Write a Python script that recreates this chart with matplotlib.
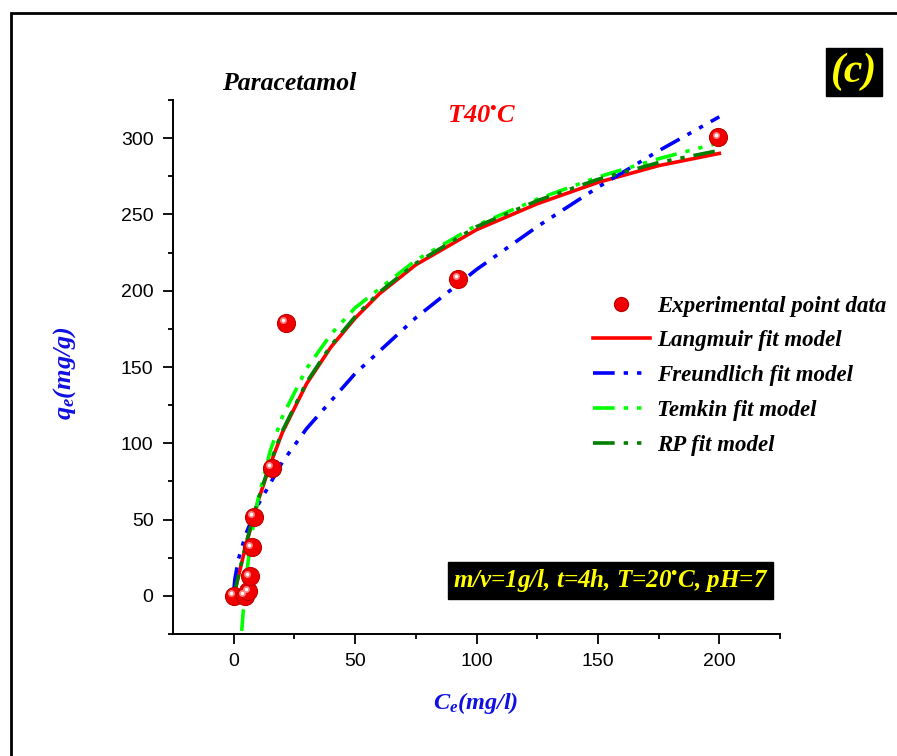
import matplotlib.pyplot as plt
import matplotlib.transforms as mtransforms
from matplotlib.patches import Rectangle

# experimental isotherm points (Ce in mg/l, qe in mg/g)
ce_exp = [0, 4.5, 6, 6.6, 7.4, 8.2, 15.6, 21.4, 92.4, 199.6]
qe_exp = [0, 0, 3, 13, 32, 52, 84, 179, 208, 300.5]

# fitted curves
ce_lang = [0, 5, 10, 15, 20, 30, 40, 50, 60, 75, 100, 125, 150, 175, 200]
qe_lang = [0, 33, 62, 86, 107, 139, 163, 182, 198, 217, 240, 257, 271, 282, 290]

ce_freu = [0.1, 0.5, 2, 5, 10, 20, 30, 50, 75, 100, 125, 150, 175, 200]
qe_freu = [4.6, 11.3, 24.4, 40.6, 59.6, 87.6, 109.6, 145.7, 182.3, 213.9,
           242, 267.8, 291.7, 314]

ce_temk = [3.3, 4, 5, 6, 8, 10, 15, 20, 30, 40, 50, 75, 100, 125, 150, 175, 200]
qe_temk = [-23, -8.2, 9.2, 23.4, 45.8, 63.3, 94.9, 117.3, 149, 171.4, 188.8,
           220, 242.9, 260, 274.5, 286.5, 297]

ce_rp = [0, 5, 10, 15, 20, 30, 40, 50, 60, 75, 100, 125, 150, 175, 200]
qe_rp = [0, 34, 63, 87, 108, 140, 164, 183, 199, 218, 242, 259, 273, 284, 292]

serif = 'Liberation Serif'
sans = 'Liberation Sans'
plt.rcParams['mathtext.fontset'] = 'custom'
plt.rcParams['mathtext.it'] = 'Liberation Serif:italic:bold'
plt.rcParams['mathtext.bf'] = 'Liberation Serif:italic:bold'
plt.rcParams['mathtext.rm'] = 'Liberation Serif:italic:bold'

fig = plt.figure(figsize=(8.97, 7.56), dpi=100)
ax = fig.add_axes([0.1929, 0.1614, 0.6767, 0.7063])

dash = (0, (6, 2.5, 1.2, 2.5, 1.2, 2.5))
ax.plot(ce_lang, qe_lang, color='#ff0000', lw=2.6, label='Langmuir fit model', zorder=3)
ax.plot(ce_freu, qe_freu, color='#0000ff', lw=2.6, linestyle=dash, label='Freundlich fit model', zorder=3)
ax.plot(ce_temk, qe_temk, color='#00ff00', lw=2.6, linestyle=dash, label='Temkin fit model', zorder=3)
ax.plot(ce_rp, qe_rp, color='#007f00', lw=2.6, linestyle=dash, label='RP fit model', zorder=3)

# red "sphere" markers with a light highlight
ax.plot(ce_exp, qe_exp, 'o', color='#f00000', mec='#c00000', mew=0.8, ms=13, zorder=4)
hl = mtransforms.offset_copy(ax.transData, fig=fig, x=-1.8, y=1.8, units='points')
ax.plot(ce_exp, qe_exp, 'o', color='#ff9090', mec='none', ms=5, alpha=0.9, transform=hl, zorder=5)
ax.plot(ce_exp, qe_exp, 'o', color='white', mec='none', ms=2.5, transform=hl, zorder=6)
exp_handle, = ax.plot([], [], 'o', color='#f00000', mec='#c00000', ms=10,
                      label='Experimental point data')

ax.set_xlim(-25, 225)
ax.set_ylim(-24, 325)
ax.set_xticks([0, 50, 100, 150, 200])
ax.set_xticks([25, 75, 125, 175, 225], minor=True)
ax.set_yticks([0, 50, 100, 150, 200, 250, 300])
ax.set_yticks([-25, 25, 75, 125, 175, 225, 275, 325], minor=True)
ax.tick_params(which='major', direction='out', length=7, width=1.3, labelsize=14, pad=7)
ax.tick_params(which='minor', direction='out', length=3.5, width=1.3)
for lab in ax.get_xticklabels() + ax.get_yticklabels():
    lab.set_fontfamily(sans)
for s in ['top', 'right']:
    ax.spines[s].set_visible(False)
for s in ['left', 'bottom']:
    ax.spines[s].set_linewidth(1.4)

ax.set_xlabel(r'$C_e$' + '(mg/l)', color='#1010e0', fontsize=17.5,
              fontfamily=serif, fontweight='bold', fontstyle='italic')
ax.set_ylabel(r'$q_e$' + '(mg/g)', color='#1010e0', fontsize=19,
              fontfamily=serif, fontweight='bold', fontstyle='italic')
ax.xaxis.set_label_coords(0.498, -0.105)
ax.yaxis.set_label_coords(-0.1565, 0.488)

txt = dict(fontfamily=serif, fontweight='bold', fontstyle='italic')
fig.text(0.247, 0.890, 'Paracetamol', fontsize=18.5, color='black', va='center', **txt)
fig.text(0.498, 0.846, 'T40$^{\u2022}$C', fontsize=19, color='#ff0000', va='center', **txt)
fig.text(0.952, 0.905, '(c)', fontsize=30, color='#ffff00', va='center', ha='center',
         bbox=dict(boxstyle='square,pad=0.12', fc='black', ec='black'), **txt)
fig.text(0.6806, 0.2315, 'm/v=1g/l, t=4h, T=20$^{\u2022}$C, pH=7', fontsize=18, color='#ffff00',
         va='center', ha='center',
         bbox=dict(boxstyle='square,pad=0.2', fc='black', ec='black'), **txt)

handles = [exp_handle] + ax.get_lines()[:4]
leg = ax.legend(handles=handles, loc='upper left', bbox_to_anchor=(0.6765, 0.651),
                frameon=False, handlelength=2.5, handletextpad=0.3, labelspacing=0.6,
                borderaxespad=0, prop={'family': serif, 'weight': 'bold',
                                       'style': 'italic', 'size': 16.5})

# outer panel frame
fig.patches.append(Rectangle((11 / 897, -0.1), 1.2, 1 - 13 / 756 + 0.1,
                             transform=fig.transFigure, fill=False, ec='black', lw=2))

fig.savefig('out.png', dpi=100)
